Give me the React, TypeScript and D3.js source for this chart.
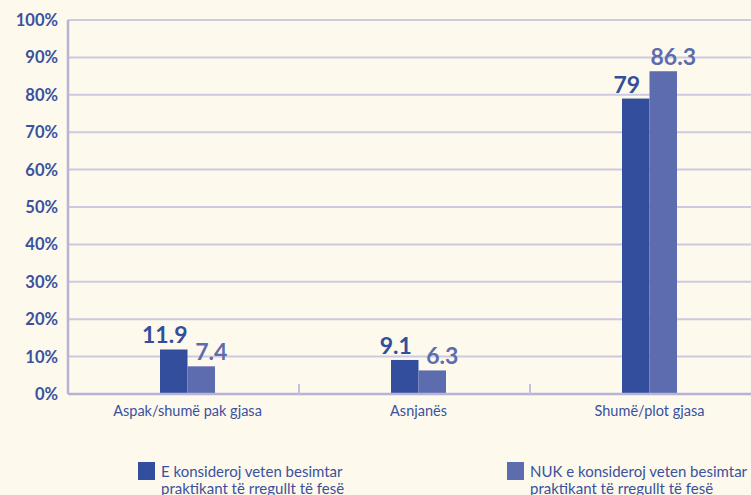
import { useEffect, useRef } from "react";
import * as d3 from "d3";

const categories = ["Aspak/shumë pak gjasa", "Asnjanës", "Shumë/plot gjasa"];
const practicing = [11.9, 9.1, 79];
const notPracticing = [7.4, 6.3, 86.3];
const seriesNames = [
  ["E konsideroj veten besimtar", "praktikant të rregullt të fesë"],
  ["NUK e konsideroj veten besimtar", "praktikant të rregullt të fesë"],
];
const yTicks = [0, 10, 20, 30, 40, 50, 60, 70, 80, 90, 100];

const WIDTH = 751;
const HEIGHT = 495;
const PLOT = { left: 68, right: 761, top: 20, bottom: 394 };
const COLORS = ["#334e9c", "#5d6caf"];
const TEXT = "#3a519f";
const FONT = "Lato, 'Open Sans', sans-serif";

const App = () => {
  const ref = useRef<SVGSVGElement | null>(null);

  useEffect(() => {
    const svg = d3.select(ref.current);
    svg.selectAll("*").remove();

    svg
      .append("rect")
      .attr("width", WIDTH)
      .attr("height", HEIGHT)
      .attr("fill", "#fdf9ec");

    const x = d3
      .scaleBand()
      .domain(categories)
      .range([PLOT.left, PLOT.right])
      .padding(0);
    const y = d3
      .scaleLinear()
      .domain([0, 100])
      .range([PLOT.bottom, PLOT.top]);

    // grid
    svg
      .append("g")
      .selectAll("line")
      .data(yTicks.filter((t) => t > 0))
      .join("line")
      .attr("x1", PLOT.left)
      .attr("x2", WIDTH)
      .attr("y1", (d) => y(d))
      .attr("y2", (d) => y(d))
      .attr("stroke", "#cdc9df")
      .attr("stroke-width", 2);

    // y tick labels
    svg
      .append("g")
      .selectAll("text")
      .data(yTicks)
      .join("text")
      .attr("x", 58)
      .attr("y", (d) => y(d) + 6)
      .attr("text-anchor", "end")
      .attr("font-family", FONT)
      .attr("font-weight", 700)
      .attr("font-size", 16.5)
      .attr("fill", TEXT)
      .text((d) => `${d}%`);

    // bars (slightly right of band centre, as in the original)
    const barW = 27.5;
    const groups = svg
      .append("g")
      .selectAll("g")
      .data(categories)
      .join("g")
      .attr("transform", (d) => `translate(${x(d)! + x.bandwidth() / 2 + 4},0)`);

    [practicing, notPracticing].forEach((vals, si) => {
      groups
        .append("rect")
        .attr("x", si === 0 ? -barW : 0)
        .attr("width", barW)
        .attr("y", (_, i) => y(vals[i]))
        .attr("height", (_, i) => PLOT.bottom - y(vals[i]))
        .attr("fill", COLORS[si]);

      groups
        .append("text")
        .attr("x", si === 0 ? -barW / 2 - 9 : barW / 2 + 10)
        .attr("y", (_, i) => y(vals[i]) - 6)
        .attr("text-anchor", "middle")
        .attr("font-family", FONT)
        .attr("font-weight", 700)
        .attr("font-size", 23)
        .attr("fill", COLORS[si])
        .text((_, i) => String(vals[i]));
    });

    // axes
    svg
      .append("line")
      .attr("x1", PLOT.left)
      .attr("x2", PLOT.left)
      .attr("y1", PLOT.top)
      .attr("y2", PLOT.bottom)
      .attr("stroke", "#b6b3d6")
      .attr("stroke-width", 2.5);
    svg
      .append("line")
      .attr("x1", PLOT.left)
      .attr("x2", WIDTH)
      .attr("y1", PLOT.bottom)
      .attr("y2", PLOT.bottom)
      .attr("stroke", "#b6b3d6")
      .attr("stroke-width", 2.5);
    svg
      .append("g")
      .selectAll("line")
      .data(categories.slice(1))
      .join("line")
      .attr("x1", (d) => x(d)!)
      .attr("x2", (d) => x(d)!)
      .attr("y1", PLOT.bottom)
      .attr("y2", PLOT.bottom - 10)
      .attr("stroke", "#c4c1dc")
      .attr("stroke-width", 2);

    // category labels
    svg
      .append("g")
      .selectAll("text")
      .data(categories)
      .join("text")
      .attr("x", (d) => x(d)! + x.bandwidth() / 2 + 4)
      .attr("y", 416)
      .attr("text-anchor", "middle")
      .attr("font-family", FONT)
      .attr("font-size", 14.5)
      .attr("fill", TEXT)
      .text((d) => d);

    // legend
    const legendX = [138, 507];
    seriesNames.forEach((lines, i) => {
      const g = svg.append("g").attr("transform", `translate(${legendX[i]},462)`);
      g.append("rect").attr("width", 17).attr("height", 18).attr("fill", COLORS[i]);
      g.append("text")
        .attr("font-family", FONT)
        .attr("font-size", 15)
        .attr("fill", TEXT)
        .selectAll("tspan")
        .data(lines)
        .join("tspan")
        .attr("x", 23)
        .attr("y", (_, j) => 15 + j * 16.5)
        .text((d) => d);
    });
  }, []);

  return (
    <svg
      ref={ref}
      width={WIDTH}
      height={HEIGHT}
      style={{ position: "absolute", left: 0, top: 0 }}
    />
  );
};

export default App;
